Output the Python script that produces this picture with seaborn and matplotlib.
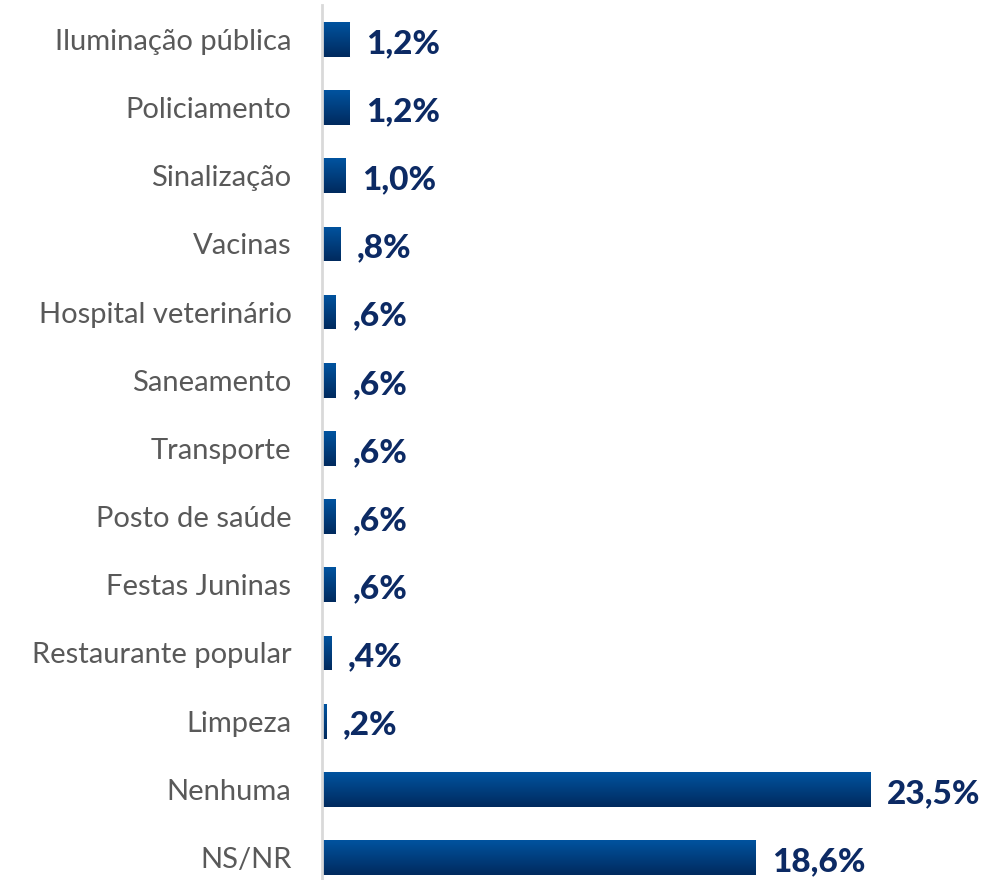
import numpy as np
import pandas as pd
import matplotlib
matplotlib.use("Agg")
import matplotlib.pyplot as plt
import seaborn as sns
from matplotlib.colors import LinearSegmentedColormap

# ================== Data ==================
categories = ["Iluminação pública", "Policiamento", "Sinalização", "Vacinas",
              "Hospital veterinário", "Saneamento", "Transporte", "Posto de saúde",
              "Festas Juninas", "Restaurante popular", "Limpeza", "Nenhuma", "NS/NR"]
values = [1.2, 1.2, 1.0, 0.8, 0.6, 0.6, 0.6, 0.6, 0.6, 0.4, 0.2, 23.5, 18.6]
value_labels = ["1,2%", "1,2%", "1,0%", ",8%", ",6%", ",6%", ",6%", ",6%",
                ",6%", ",4%", ",2%", "23,5%", "18,6%"]

df = pd.DataFrame({"categoria": categories, "valor": values})

# ================== Plot ==================
sns.set_style("white")
plt.rcParams['font.family'] = ['Lato', 'DejaVu Sans']

fig = plt.figure(figsize=(10, 8.8), dpi=100)
ax = fig.add_axes([0.322, 0.0, 0.678, 0.994])

sns.barplot(data=df, x="valor", y="categoria", orient="h", color="#00468c",
            width=0.51, ax=ax)

# vertical gradient on each bar (lighter at top, darker at bottom)
grad = LinearSegmentedColormap.from_list("g", ["#00539f", "#002a5e"])
for patch in ax.patches:
    x0, y0 = patch.get_x(), patch.get_y()
    w, h = patch.get_width(), patch.get_height()
    img = ax.imshow(np.linspace(0, 1, 50).reshape(-1, 1), cmap=grad, aspect="auto",
                    extent=[x0, x0 + w, y0, y0 + h], origin="lower", zorder=2)
    img.set_clip_path(patch)

ax.set_xlim(0, 29.07)
ax.set_ylim(12.33, -0.50)

for i, (v, lab) in enumerate(zip(values, value_labels)):
    ax.text(v + 0.7, i + 0.06, lab, va="center", ha="left", fontsize=24,
            fontweight="black", color="#0c2a64")

ax.set_xlabel("")
ax.set_ylabel("")
ax.set_xticks([])
ax.tick_params(axis="y", length=0, pad=22, labelsize=21, labelcolor="#595959")
for s in ["top", "right", "bottom"]:
    ax.spines[s].set_visible(False)
ax.spines["left"].set_color("#d9d9d9")
ax.spines["left"].set_linewidth(2)

fig.savefig("out.png", dpi=100)
